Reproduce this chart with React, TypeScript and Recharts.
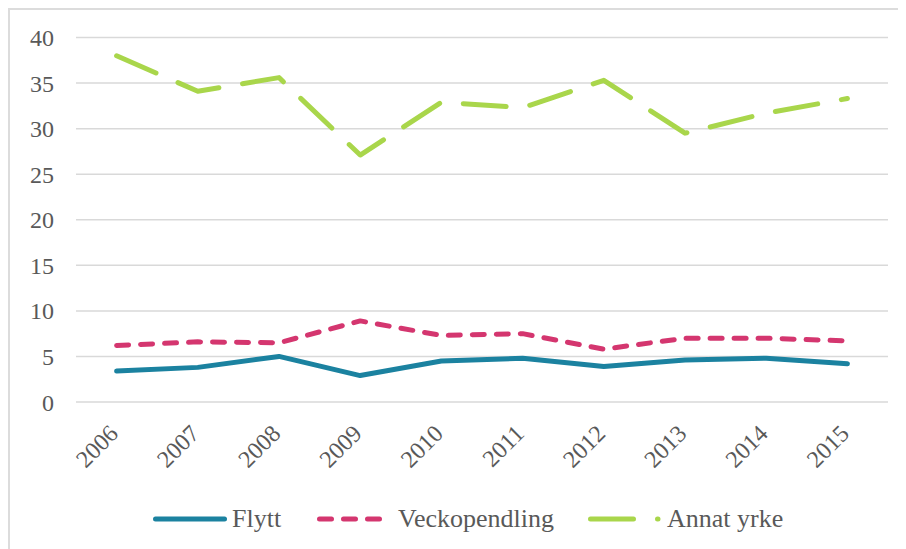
import { CartesianGrid, Legend, Line, LineChart, XAxis, YAxis } from "recharts";

const years = ["2006", "2007", "2008", "2009", "2010", "2011", "2012", "2013", "2014", "2015"];
const flytt = [3.4, 3.8, 5.0, 2.9, 4.5, 4.8, 3.9, 4.6, 4.8, 4.2];
const veckopendling = [6.2, 6.6, 6.5, 8.9, 7.3, 7.5, 5.8, 7.0, 7.0, 6.7];
const annatYrke = [38.0, 34.1, 35.6, 27.1, 32.9, 32.3, 35.3, 29.5, 31.7, 33.3];
const yTicks = [0, 5, 10, 15, 20, 25, 30, 35, 40];

const data = years.map((year, i) => ({
  year,
  flytt: flytt[i],
  veckopendling: veckopendling[i],
  annat: annatYrke[i],
}));

const FONT = '"Liberation Serif", serif';
const TEXT = "#595959";
const TEAL = "#1b82a0";
const PINK = "#d4366f";
const GREEN = "#a9d64b";

const YearTick = ({ x, y, payload }: any) => (
  <text
    transform={`translate(${x + 3},${y + 33}) rotate(-45)`}
    textAnchor="end"
    fill={TEXT}
    fontSize={24}
    fontFamily={FONT}
  >
    {payload.value}
  </text>
);

const legendItems = [
  { label: "Flytt", color: TEAL, left: 142, dash: undefined, x1: 5.5, x2: 74.5 },
  { label: "Veckopendling", color: PINK, left: 304, dash: "12 12", x1: 7.5, x2: 69 },
  { label: "Annat yrke", color: GREEN, left: 575, dash: "43 24", x1: 7.5, x2: 75 },
];

const LegendContent = () => (
  <div style={{ position: "relative", height: 30, width: 898 }}>
    {legendItems.map((item) => (
      <div
        key={item.label}
        style={{
          position: "absolute",
          left: item.left,
          top: 0,
          height: 30,
          display: "flex",
          alignItems: "center",
          fontFamily: FONT,
          fontSize: 26,
          color: TEXT,
          whiteSpace: "nowrap",
        }}
      >
        <svg width={80} height={30} style={{ display: "block" }}>
          <line
            x1={item.x1}
            x2={item.x2}
            y1={15}
            y2={15}
            stroke={item.color}
            strokeWidth={5}
            strokeLinecap="round"
            strokeDasharray={item.dash}
          />
        </svg>
        <span style={{ marginLeft: item.label === "Flytt" ? 2 : item.label === "Annat yrke" ? 4 : 6 }}>
          {item.label}
        </span>
      </div>
    ))}
  </div>
);

export default function App() {
  return (
    <div style={{ position: "relative", width: 898, height: 541 }}>
      <div style={{ position: "absolute", left: 0, top: 0, width: 898, height: 2, background: "#dcdcdc" }} />
      <div style={{ position: "absolute", left: 0, top: 0, width: 2, height: 541, background: "#dcdcdc" }} />
      <LineChart
        width={898}
        height={541}
        data={data}
        margin={{ top: 29.5, right: 18, bottom: 15, left: 0 }}
      >
        <CartesianGrid vertical={false} stroke="#d9d9d9" strokeWidth={1.5} />
        <XAxis
          dataKey="year"
          axisLine={false}
          tickLine={false}
          tickSize={0}
          tickMargin={0}
          height={102}
          interval={0}
          padding={{ left: 40.6, right: 40.6 }}
          tick={<YearTick />}
        />
        <YAxis
          width={68}
          domain={[0, 40]}
          ticks={yTicks}
          axisLine={false}
          tickLine={false}
          tickSize={0}
          tickMargin={22}
          tick={{ fill: TEXT, fontSize: 24, fontFamily: FONT }}
        />
        <Legend
          verticalAlign="bottom"
          height={30}
          content={<LegendContent />}
          wrapperStyle={{ left: 0, bottom: 15, width: 898 }}
        />
        <Line
          dataKey="flytt"
          stroke={TEAL}
          strokeWidth={5}
          strokeLinecap="round"
          strokeLinejoin="round"
          dot={false}
          activeDot={false}
          isAnimationActive={false}
        />
        <Line
          dataKey="veckopendling"
          stroke={PINK}
          strokeWidth={5}
          strokeDasharray="12 12"
          strokeLinecap="round"
          strokeLinejoin="round"
          dot={false}
          activeDot={false}
          isAnimationActive={false}
        />
        <Line
          dataKey="annat"
          stroke={GREEN}
          strokeWidth={5}
          strokeDasharray="43 24"
          strokeLinecap="round"
          strokeLinejoin="round"
          dot={false}
          activeDot={false}
          isAnimationActive={false}
        />
      </LineChart>
    </div>
  );
}
